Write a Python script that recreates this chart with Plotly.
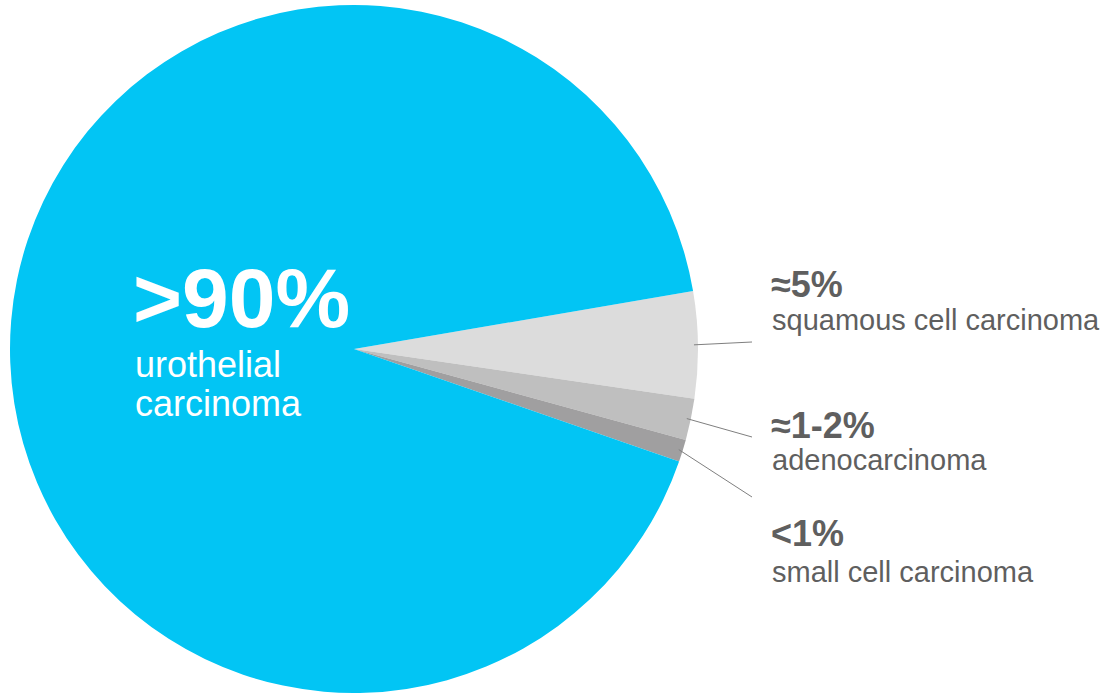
import math
import plotly.graph_objects as go

# Bladder cancer histology shares (approximate)
labels = ["squamous cell carcinoma", "adenocarcinoma", "small cell carcinoma", "urothelial carcinoma"]
values = [5.0, 1.95, 1.05, 92.0]
pct_text = ["≈5%", "≈1-2%", "<1%", ">90%"]
colors = ["#DCDCDC", "#BFBFBF", "#A09FA0", "#02C5F4"]

W, H = 1104, 693
FONT = "Liberation Sans, Arial, sans-serif"
TEXT_GRAY = "#5F5F5F"

# pie geometry in pixels
CX, CY, R = 354, 349, 344
START = 80.3  # degrees clockwise from 12 o'clock

fig = go.Figure(go.Pie(
    labels=labels,
    values=values,
    marker=dict(colors=colors, line=dict(width=0)),
    sort=False,
    direction="clockwise",
    rotation=START,
    textinfo="none",
    hoverinfo="label+percent",
    showlegend=False,
    domain=dict(x=[(CX - R) / W, (CX + R) / W], y=[(H - CY - R) / H, (H - CY + R) / H]),
))


def px(x):
    return x / W


def py(y):
    return 1 - y / H


annotations = []
shapes = []

# big label inside the urothelial slice
annotations.append(dict(x=px(131), y=py(298), text="<b>" + pct_text[3] + "</b>", font=dict(size=84, color="white", family=FONT)))
annotations.append(dict(x=px(133), y=py(364), text="urothelial", font=dict(size=36, color="white", family=FONT)))
annotations.append(dict(x=px(133), y=py(404), text="carcinoma", font=dict(size=36, color="white", family=FONT)))

# right-hand labels with leader lines from the slice mid-angles
label_pct_y = [285, 425, 533]
label_name_y = [320, 460, 572]
line_end = [(752, 342), (752, 437), (752, 497)]
total = sum(values)
acc = 0.0
for i in range(3):
    mid = START + (acc + values[i] / 2) / total * 360
    acc += values[i]
    rr = R - 4
    x0 = CX + rr * math.sin(math.radians(mid))
    y0 = CY - rr * math.cos(math.radians(mid))
    x1, y1 = line_end[i]
    shapes.append(dict(type="line", xref="paper", yref="paper", x0=px(x0), y0=py(y0), x1=px(x1), y1=py(y1),
                       line=dict(color="#7F7F7F", width=1)))
    annotations.append(dict(x=px(769), y=py(label_pct_y[i]), text="<b>" + pct_text[i] + "</b>",
                            font=dict(size=36, color=TEXT_GRAY, family=FONT)))
    annotations.append(dict(x=px(770), y=py(label_name_y[i]), text=labels[i],
                            font=dict(size=29, color=TEXT_GRAY, family=FONT)))

for a in annotations:
    a.update(xref="paper", yref="paper", xanchor="left", yanchor="middle", showarrow=False)

fig.update_layout(
    width=W, height=H,
    margin=dict(l=0, r=0, t=0, b=0),
    paper_bgcolor="white",
    plot_bgcolor="white",
    annotations=annotations,
    shapes=shapes,
)

fig.write_html("out.html")
